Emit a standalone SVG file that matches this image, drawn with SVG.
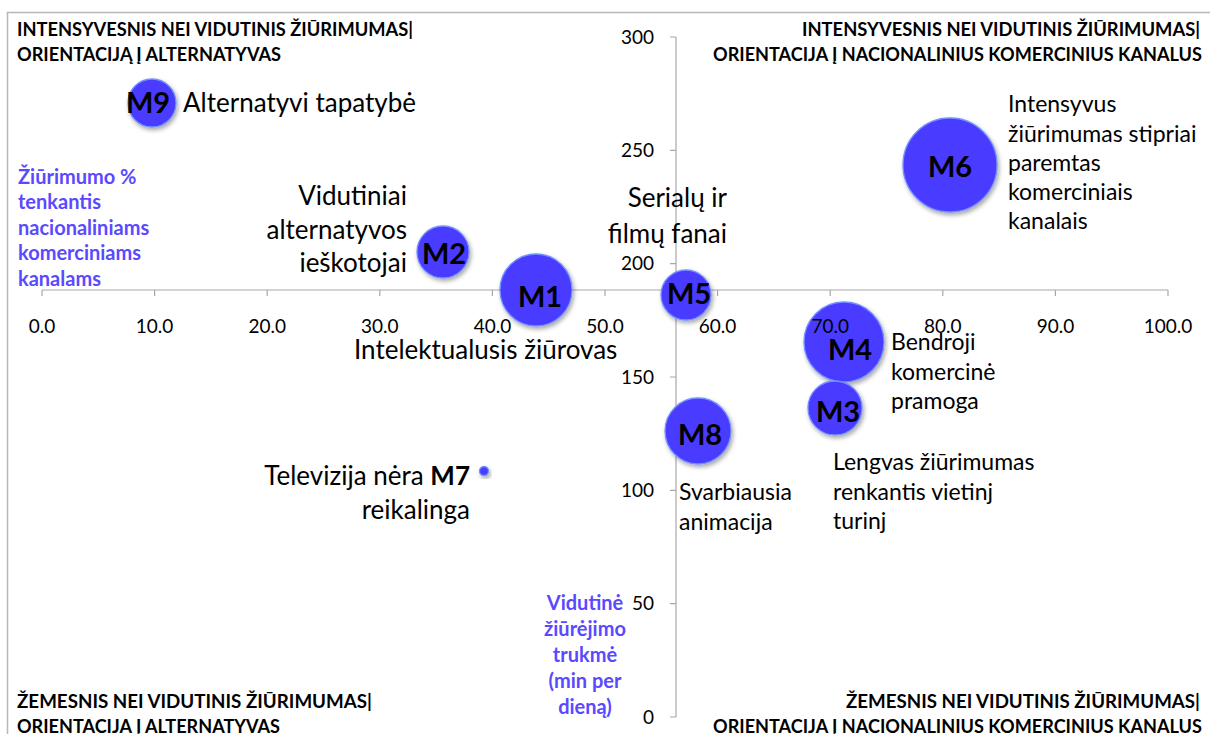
<svg xmlns="http://www.w3.org/2000/svg" width="1210" height="734" viewBox="0 0 1210 734">
<defs>
<style>
text{font-family:Lato,"Liberation Sans","DejaVu Sans",sans-serif;fill:#000}
.corner{font-size:19px;font-weight:bold}
.blue{font-size:20px;font-weight:bold;fill:#5a49ff}
.tick{font-size:19px}
.big{font-size:26px}
.mid{font-size:23px}
.ml{font-size:29px;font-weight:bold;text-anchor:middle}
.bub{fill:#4a3bff;stroke:#7390ff;stroke-width:1.3;filter:url(#sh)}
.ax{stroke:#a8a8a8;stroke-width:1.2;fill:none}
.end{text-anchor:end}
.midA{text-anchor:middle}
</style>
<filter id="sh" x="-30%" y="-30%" width="160%" height="160%">
<feDropShadow dx="1.5" dy="2.5" stdDeviation="2" flood-color="#000" flood-opacity="0.35"/>
</filter>
</defs>
<rect x="0" y="0" width="1210" height="734" fill="#fff"/>
<rect x="7.5" y="12.5" width="1300" height="800" fill="none" stroke="#b8b8b8" stroke-width="1.5"/>

<g id="axes">
<line class="ax" x1="42" y1="290" x2="1168" y2="290"/>
<path class="ax" d="M42 290v6M154.6 290v6M267.2 290v6M379.8 290v6M492.4 290v6M605 290v6M717.6 290v6M830.2 290v6M942.8 290v6M1055.4 290v6M1168 290v6"/>
<line class="ax" x1="676" y1="37" x2="676" y2="717"/>
<path class="ax" d="M670 37h6M670 150.3h6M670 263.7h6M670 377h6M670 490.3h6M670 603.7h6M670 717h6"/>
</g>

<g id="connectors"></g>

<g id="M9">
<circle class="bub" cx="152" cy="103" r="24"/>
<text class="ml" x="148" y="113">M9</text>
<text class="big" x="183" y="112">Alternatyvi tapatybė</text>
</g>
<g id="M2">
<circle class="bub" cx="443" cy="252" r="26"/>
<text class="ml" x="444" y="264">M2</text>
<text class="big end" x="407" y="205">Vidutiniai</text>
<text class="big end" x="407" y="239">alternatyvos</text>
<text class="big end" x="407" y="272">ieškotojai</text>
</g>
<g id="M1">
<circle class="bub" cx="536" cy="290" r="36"/>
<text class="ml" x="540" y="307">M1</text>
<text class="big" x="354" y="359">Intelektualusis žiūrovas</text>
</g>
<g id="M5">
<circle class="bub" cx="686" cy="295" r="25"/>
<text class="ml" x="689" y="304">M5</text>
<text class="big end" x="727" y="207">Serialų ir</text>
<text class="big end" x="727" y="243">filmų fanai</text>
</g>
<g id="M6">
<circle class="bub" cx="950" cy="165" r="47"/>
<text class="ml" x="950" y="177">M6</text>
<text class="mid" x="1008" y="112">Intensyvus</text>
<text class="mid" x="1008" y="142">žiūrimumas stipriai</text>
<text class="mid" x="1008" y="171">paremtas</text>
<text class="mid" x="1008" y="200">komerciniais</text>
<text class="mid" x="1008" y="229">kanalais</text>
</g>
<g id="M4">
<circle class="bub" cx="844" cy="342" r="40"/>
<text class="ml" x="850" y="360">M4</text>
<text class="mid" x="891" y="350">Bendroji</text>
<text class="mid" x="891" y="380">komercinė</text>
<text class="mid" x="891" y="409">pramoga</text>
</g>
<g id="M3">
<circle class="bub" cx="835" cy="408" r="27"/>
<text class="ml" x="838" y="422">M3</text>
<text class="mid" x="833" y="470">Lengvas žiūrimumas</text>
<text class="mid" x="833" y="500">renkantis vietinj</text>
<text class="mid" x="833" y="529">turinj</text>
</g>
<g id="M8">
<circle class="bub" cx="698" cy="431" r="33"/>
<text class="ml" x="700" y="445">M8</text>
<text class="mid" x="679" y="500">Svarbiausia</text>
<text class="mid" x="679" y="530">animacija</text>
</g>
<g id="M7">
<circle class="bub" cx="484" cy="471" r="4.5"/>
<text class="big end" x="470" y="485">Televizija nėra <tspan font-weight="bold">M7</tspan></text>
<text class="big end" x="470" y="519">reikalinga</text>
</g>

<g id="axis-labels">
<text class="tick midA" x="42" y="333">0.0</text>
<text class="tick midA" x="154.6" y="333">10.0</text>
<text class="tick midA" x="267.2" y="333">20.0</text>
<text class="tick midA" x="379.8" y="333">30.0</text>
<text class="tick midA" x="492.4" y="333">40.0</text>
<text class="tick midA" x="605" y="333">50.0</text>
<text class="tick midA" x="717.6" y="333">60.0</text>
<text class="tick midA" x="830.2" y="333">70.0</text>
<text class="tick midA" x="942.8" y="333">80.0</text>
<text class="tick midA" x="1055.4" y="333">90.0</text>
<text class="tick midA" x="1168" y="333">100.0</text>
<text class="tick end" x="654" y="44">300</text>
<text class="tick end" x="654" y="157">250</text>
<text class="tick end" x="654" y="270">200</text>
<text class="tick end" x="654" y="384">150</text>
<text class="tick end" x="654" y="497">100</text>
<text class="tick end" x="654" y="610">50</text>
<text class="tick end" x="654" y="724">0</text>
<text class="blue" x="18" y="184">Žiūrimumo %</text>
<text class="blue" x="18" y="209">tenkantis</text>
<text class="blue" x="18" y="235">nacionaliniams</text>
<text class="blue" x="18" y="260">komerciniams</text>
<text class="blue" x="18" y="286">kanalams</text>
<text class="blue midA" x="585" y="610">Vidutinė</text>
<text class="blue midA" x="585" y="636">žiūrėjimo</text>
<text class="blue midA" x="585" y="662">trukmė</text>
<text class="blue midA" x="585" y="688">(min per</text>
<text class="blue midA" x="585" y="714">dieną)</text>
</g>

<g id="corners">
<text class="corner" x="17" y="36" textLength="396" lengthAdjust="spacingAndGlyphs">INTENSYVESNIS NEI VIDUTINIS ŽIŪRIMUMAS|</text>
<text class="corner" x="17" y="61" textLength="264" lengthAdjust="spacingAndGlyphs">ORIENTACIJĄ Į ALTERNATYVAS</text>
<text class="corner" x="802" y="36" textLength="398" lengthAdjust="spacingAndGlyphs">INTENSYVESNIS NEI VIDUTINIS ŽIŪRIMUMAS|</text>
<text class="corner" x="713" y="61" textLength="489" lengthAdjust="spacingAndGlyphs">ORIENTACIJA Į NACIONALINIUS KOMERCINIUS KANALUS</text>
<text class="corner" x="17" y="708" textLength="355" lengthAdjust="spacingAndGlyphs">ŽEMESNIS NEI VIDUTINIS ŽIŪRIMUMAS|</text>
<text class="corner" x="17" y="733" textLength="263" lengthAdjust="spacingAndGlyphs">ORIENTACIJA Į ALTERNATYVAS</text>
<text class="corner" x="846" y="708" textLength="354" lengthAdjust="spacingAndGlyphs">ŽEMESNIS NEI VIDUTINIS ŽIŪRIMUMAS|</text>
<text class="corner" x="713" y="733" textLength="489" lengthAdjust="spacingAndGlyphs">ORIENTACIJA Į NACIONALINIUS KOMERCINIUS KANALUS</text>
</g>
</svg>
